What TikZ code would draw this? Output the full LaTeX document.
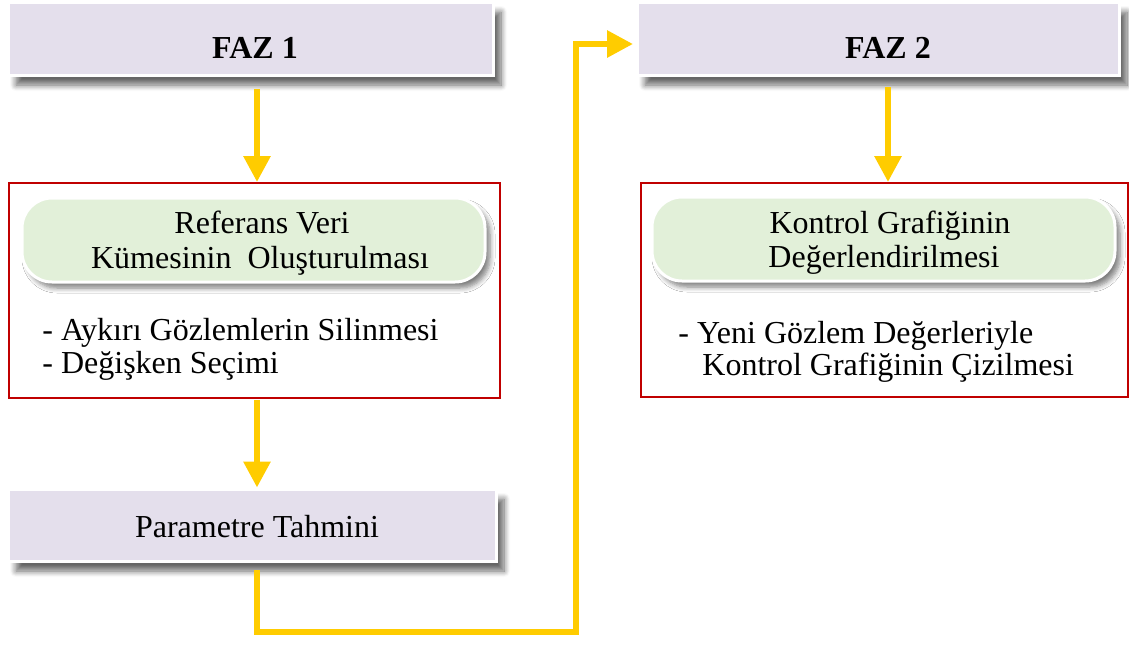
\documentclass[tikz,border=0pt]{standalone}
\usepackage{fontspec}
\setmainfont{Liberation Serif}
\usetikzlibrary{arrows.meta,shadows.blur}
\definecolor{phasefill}{HTML}{E4DFEC}
\definecolor{stepfill}{HTML}{E2F0D9}
\definecolor{framered}{HTML}{C00000}
\definecolor{flowyellow}{HTML}{FFCC00}
\begin{document}
\begin{tikzpicture}[x=0.5pt,y=-0.5pt,
  phasebox/.style={draw=white, line width=1.5pt, fill=phasefill, inner sep=0pt,
    blur shadow={shadow xshift=4pt, shadow yshift=-5pt, shadow opacity=60, shadow blur steps=8, shadow blur radius=3pt}},
  framebox/.style={draw=framered, line width=1pt, fill=white, inner sep=0pt},
  stepbox/.style={draw=white, line width=1.5pt, fill=stepfill, inner sep=0pt, rounded corners=15pt,
    blur shadow={shadow xshift=2.5pt, shadow yshift=-3pt, shadow opacity=50, shadow blur steps=6, shadow blur radius=2.5pt}},
  txt/.style={font=\fontsize{16}{19}\selectfont, inner sep=0pt, anchor=base},
  txtw/.style={txt, anchor=base west},
  flow/.style={draw=flowyellow, line width=3pt, -{Triangle[width=13pt,length=13pt]}}]
\useasboundingbox (0,0) rectangle (1129,644);

% Phase 1
\node[phasebox, minimum width=242.5pt, minimum height=36.5pt] (faz1) at (250.5,38.5) {};
\node[txt, font=\fontsize{16}{19}\selectfont\bfseries] (faz1t) at (255,58) {FAZ 1};

\node[framebox, minimum width=245.5pt, minimum height=107.5pt] (red1) at (254.5,290.5) {};
\node[stepbox, minimum width=231.5pt, minimum height=42pt] (green1) at (253.5,240) {};
\node[txt] (g1a) at (262,233) {Referans Veri};
\node[txt] (g1b) at (260,268) {Kümesinin\ \ Oluşturulması};
\node[txtw] (b1a) at (42,340) {- Aykırı Gözlemlerin Silinmesi};
\node[txtw] (b1b) at (42,373) {- Değişken Seçimi};

\node[phasebox, minimum width=244pt, minimum height=36pt] (param) at (252,525) {};
\node[txt] (paramt) at (257,537) {Parametre Tahmini};

% Phase 2
\node[phasebox, minimum width=241pt, minimum height=36.5pt] (faz2) at (878,38.5) {};
\node[txt, font=\fontsize{16}{19}\selectfont\bfseries] (faz2t) at (888,58) {FAZ 2};

\node[framebox, minimum width=243.5pt, minimum height=107pt] (red2) at (884.5,290) {};
\node[stepbox, minimum width=231.5pt, minimum height=42pt] (green2) at (883.5,239) {};
\node[txt] (g2a) at (890,233) {Kontrol Grafiğinin};
\node[txt] (g2b) at (884,267) {Değerlendirilmesi};
\node[txtw] (b2a) at (678,343) {- Yeni Gözlem Değerleriyle};
\node[txtw] (b2b) at (702,375) {Kontrol Grafiğinin Çizilmesi};

% Connectors
\coordinate (s1) at (257,89);
\coordinate (s2) at (257,400);
\coordinate (s3) at (257,570);
\coordinate (s4) at (888,87);
\coordinate (lb) at (257,632);
\coordinate (lr) at (576,632);
\coordinate (lt) at (576,44);
\coordinate (e3) at (633,44);

\draw[flow] (s1) -- (s1 |- red1.north);
\draw[flow] (s2) -- (s2 |- param.north);
\draw[flow, line join=miter] (s3) -- (lb) -- (lr) -- (lt) -- (e3);
\draw[flow] (s4) -- (s4 |- red2.north);
\end{tikzpicture}
\end{document}
